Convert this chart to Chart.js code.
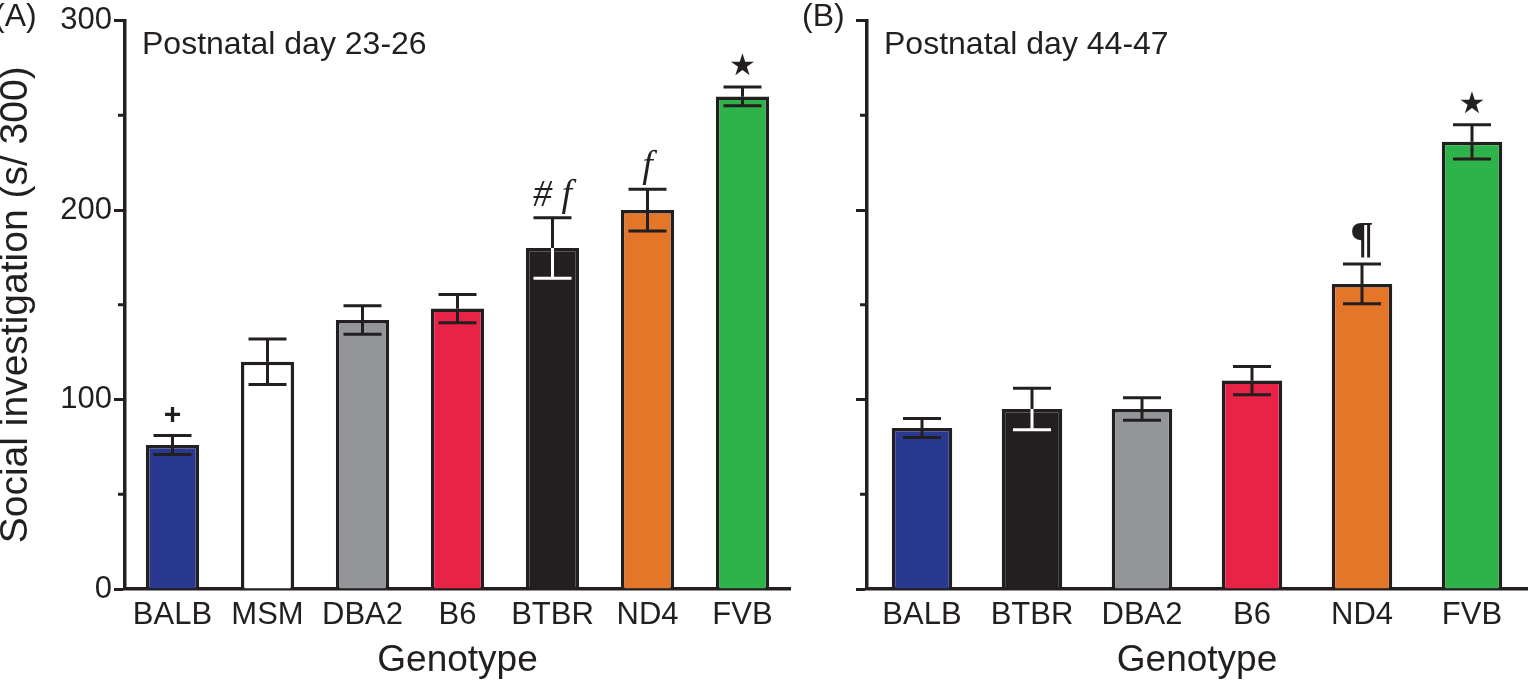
<!DOCTYPE html>
<html>
<head>
<meta charset="utf-8">
<script src="https://cdn.jsdelivr.net/npm/chart.js@4"></script>
<style>
  html, body { margin: 0; padding: 0; background: #fff; }
  #wrap { position: relative; width: 1532px; height: 685px; overflow: hidden; }
  #a { position: absolute; left: 0; top: 0; }
  #b { position: absolute; left: 800px; top: 0; }
</style>
</head>
<body>
<div id="wrap">
  <canvas id="a" width="800" height="685"></canvas>
  <canvas id="b" width="732" height="685"></canvas>
</div>
<script>
// panel A: postnatal day 23-26
const genotypesA = ["BALB", "MSM", "DBA2", "B6", "BTBR", "ND4", "FVB"];
const meansA = [76, 120, 142, 148, 180, 200, 260];
const errorsA = [5, 12, 7.5, 7.5, 16, 11, 5];
const marksA = ["+", "", "", "", "# f", "f", "★"];

// panel B: postnatal day 44-47
const genotypesB = ["BALB", "BTBR", "DBA2", "B6", "ND4", "FVB"];
const meansB = [85, 95, 95, 110, 161, 236];
const errorsB = [5, 11, 6, 7.5, 10.5, 9];
const marksB = ["", "", "", "", "¶", "★"];

const yTicks = [0, 100, 200, 300];
const yMinorTicks = [50, 150, 250];

const INK = "#231f20";
const colours = {
  BALB: "#2a3990", MSM: "#ffffff", DBA2: "#939598", B6: "#e82347",
  BTBR: "#231f20", ND4: "#e37628", FVB: "#2db34a"
};
const markFonts = {
  "+": "bold 30px 'Liberation Sans'",
  "★": "30px 'DejaVu Sans'",
  "f": "italic 38px 'Liberation Serif'",
  "# f": "italic 38px 'Liberation Serif'",
  "¶": "bold 44px 'Liberation Serif'"
};

const errorBars = {
  id: "errorBars",
  afterDatasetsDraw(chart, args, opts) {
    const ctx = chart.ctx, y = chart.scales.y;
    const ds = chart.data.datasets[0];
    const meta = chart.getDatasetMeta(0);
    ctx.save();
    ctx.lineWidth = 3;
    meta.data.forEach((bar, i) => {
      const v = ds.data[i], e = opts.errors[i];
      const top = y.getPixelForValue(v + e);
      const mid = y.getPixelForValue(v);
      const bot = y.getPixelForValue(v - e);
      const x = bar.x, cap = 19;
      ctx.strokeStyle = INK;
      ctx.beginPath();
      ctx.moveTo(x - cap, top); ctx.lineTo(x + cap, top);
      ctx.moveTo(x, top); ctx.lineTo(x, mid);
      ctx.stroke();
      ctx.strokeStyle = ds.backgroundColor[i] === INK ? "#ffffff" : INK;
      ctx.beginPath();
      ctx.moveTo(x, mid); ctx.lineTo(x, bot);
      ctx.moveTo(x - cap, bot); ctx.lineTo(x + cap, bot);
      ctx.stroke();
      const m = opts.marks[i];
      if (m) {
        ctx.fillStyle = INK;
        ctx.font = markFonts[m];
        ctx.textAlign = "center";
        ctx.textBaseline = "alphabetic";
        ctx.fillText(m, x, top - 12);
      }
    });
    // minor ticks on the y axis
    ctx.strokeStyle = INK;
    ctx.beginPath();
    yMinorTicks.forEach(v => {
      const py = y.getPixelForValue(v);
      ctx.moveTo(chart.chartArea.left - 7, py);
      ctx.lineTo(chart.chartArea.left, py);
    });
    ctx.stroke();
    // panel labels
    ctx.fillStyle = INK;
    ctx.textAlign = "left";
    ctx.textBaseline = "middle";
    ctx.font = "32px 'Liberation Sans'";
    ctx.fillText(opts.subtitle, chart.chartArea.left + 17, chart.chartArea.top + 25);
    ctx.fillText(opts.panel, opts.panelX, 17);
    ctx.restore();
  }
};

function makeChart(id, labels, means, errors, marks, opts) {
  return new Chart(document.getElementById(id), {
    type: "bar",
    data: {
      labels: labels,
      datasets: [{
        data: means,
        backgroundColor: labels.map(l => colours[l]),
        borderColor: INK,
        borderWidth: 3.5,
        borderSkipped: "bottom",
        categoryPercentage: 1,
        barPercentage: opts.barPct
      }]
    },
    options: {
      responsive: false,
      animation: false,
      layout: { padding: { top: 20, right: opts.padRight, left: 0, bottom: 0 } },
      plugins: {
        legend: { display: false },
        tooltip: { enabled: false },
        errorBars: { errors: errors, marks: marks, subtitle: opts.subtitle, panel: opts.panel, panelX: opts.panelX }
      },
      scales: {
        x: {
          afterFit: s => { s.height = 96; },
          grid: { display: false, drawTicks: false },
          border: { display: true, color: INK, width: 3.5 },
          ticks: { color: INK, font: { family: "Liberation Sans", size: 31 }, padding: 8, maxRotation: 0 },
          title: { display: true, text: "Genotype", color: INK,
                   font: { family: "Liberation Sans", size: 37, lineHeight: 1.2 }, padding: { top: 0, bottom: 2 } }
        },
        y: {
          min: 0, max: 300,
          afterFit: s => { s.width = opts.yWidth; },
          afterBuildTicks: s => { s.ticks = yTicks.map(v => ({ value: v })); },
          grid: { drawOnChartArea: false, drawTicks: true, tickLength: 11, tickWidth: 3, color: INK },
          border: { display: true, color: INK, width: 3.5 },
          ticks: {
            color: INK, padding: 2,
            font: { family: "Liberation Sans", size: 31 },
            callback: v => opts.showLabels ? String(v) : ""
          },
          title: {
            display: opts.showLabels, text: "Social investigation (s/ 300)", color: INK,
            font: { family: "Liberation Sans", size: 39, lineHeight: 0.85 }, padding: 0
          }
        }
      }
    },
    plugins: [errorBars]
  });
}

makeChart("a", genotypesA, meansA, errorsA, marksA, {
  barPct: 0.56, padRight: 10, yWidth: 125, showLabels: true,
  subtitle: "Postnatal day 23-26", panel: "(A)", panelX: -6
});
makeChart("b", genotypesB, meansB, errorsB, marksB, {
  barPct: 0.55, padRight: 5, yWidth: 67, showLabels: false,
  subtitle: "Postnatal day 44-47", panel: "(B)", panelX: 2
});
</script>
</body>
</html>
